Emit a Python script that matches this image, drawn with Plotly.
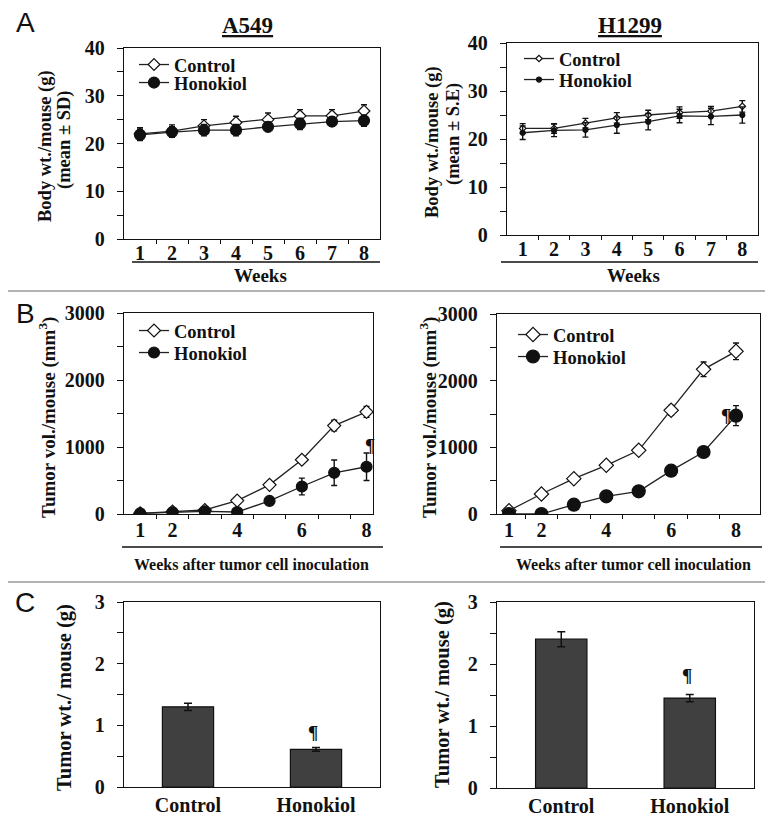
import plotly.graph_objects as go

# ---------------- data ----------------
weeks = [1, 2, 3, 4, 5, 6, 7, 8]
vol_tick_weeks = [1, 2, 4, 6, 8]

# Panel A: body weight (g)
a549_bw_ctrl = [22.0, 22.6, 23.7, 24.4, 25.0, 25.8, 25.8, 26.8]
a549_bw_ctrl_sd = [1.3, 1.3, 1.3, 1.3, 1.4, 1.3, 1.3, 1.3]
a549_bw_hono = [21.8, 22.4, 22.8, 22.8, 23.5, 24.1, 24.6, 24.8]
a549_bw_hono_sd = [1.2, 1.1, 1.2, 1.2, 1.0, 1.2, 1.0, 1.2]

h1299_bw_ctrl = [22.2, 22.2, 23.3, 24.4, 25.0, 25.5, 25.8, 26.8]
h1299_bw_ctrl_se = [1.0, 1.0, 1.0, 1.1, 1.0, 1.2, 1.0, 1.2]
h1299_bw_hono = [21.3, 21.8, 21.9, 22.9, 23.6, 24.8, 24.7, 25.0]
h1299_bw_hono_se = [1.4, 1.3, 1.5, 1.7, 1.7, 1.4, 1.7, 1.7]

# Panel B: tumor volume (mm3)
a549_vol_ctrl = [10, 35, 60, 200, 435, 810, 1320, 1525]
a549_vol_ctrl_err = [5, 10, 15, 25, 35, 50, 80, 80]
a549_vol_hono = [10, 25, 40, 30, 195, 410, 615, 705]
a549_vol_hono_err = [5, 10, 10, 10, 30, 125, 190, 205]

h1299_vol_ctrl = [50, 300, 530, 730, 955, 1555, 2170, 2440]
h1299_vol_ctrl_err = [20, 30, 35, 35, 45, 75, 110, 125]
h1299_vol_hono = [0, 0, 140, 265, 340, 650, 930, 1475]
h1299_vol_hono_err = [5, 5, 20, 25, 30, 35, 80, 150]

# Panel C: tumor weight (g)
groups = ["Control", "Honokiol"]
a549_wt = [1.30, 0.61]
a549_wt_err = [0.06, 0.03]
h1299_wt = [2.40, 1.45]
h1299_wt_err = [0.12, 0.06]

# ---------------- helpers ----------------
W, H = 773, 823
SERIF = "Liberation Serif"
SANS = "Liberation Sans"
INK = "#111111"
DX, DY = 8, 8  # page (body margin) offset compensation


def fx(p):
    return (p - DX) / W


def fy(p):
    return 1 - (p - DY) / H


fig = go.Figure()


def line_trace(y, err, name, ctrl, xa, ya, legend, msize, lw=1.3):
    return go.Scatter(
        x=weeks, y=y, name=name, mode="lines+markers",
        xaxis=xa, yaxis=ya, legend=legend,
        line=dict(color="#222222", width=lw),
        marker=dict(symbol="diamond" if ctrl else "circle", size=msize,
                    color="white" if ctrl else INK,
                    line=dict(color=INK, width=1.2)),
        error_y=dict(type="data", array=err, visible=True, color=INK,
                     thickness=1.4, width=3),
    )


# A left
fig.add_trace(line_trace(a549_bw_ctrl, a549_bw_ctrl_sd, "Control", True, "x", "y", "legend", 9))
fig.add_trace(line_trace(a549_bw_hono, a549_bw_hono_sd, "Honokiol", False, "x", "y", "legend2", 11))
# A right
fig.add_trace(line_trace(h1299_bw_ctrl, h1299_bw_ctrl_se, "Control", True, "x2", "y2", "legend3", 5))
fig.add_trace(line_trace(h1299_bw_hono, h1299_bw_hono_se, "Honokiol", False, "x2", "y2", "legend4", 5))
# B left
fig.add_trace(line_trace(a549_vol_ctrl, a549_vol_ctrl_err, "Control", True, "x3", "y3", "legend5", 10))
fig.add_trace(line_trace(a549_vol_hono, a549_vol_hono_err, "Honokiol", False, "x3", "y3", "legend6", 11))
# B right
fig.add_trace(line_trace(h1299_vol_ctrl, h1299_vol_ctrl_err, "Control", True, "x4", "y4", "legend7", 11))
fig.add_trace(line_trace(h1299_vol_hono, h1299_vol_hono_err, "Honokiol", False, "x4", "y4", "legend8", 13))


def bar_trace(vals, err, xa, ya):
    return go.Bar(
        x=groups, y=vals, xaxis=xa, yaxis=ya, width=0.4, showlegend=False,
        marker=dict(color="#404040", line=dict(color=INK, width=1.2)),
        error_y=dict(type="data", array=err, visible=True, color=INK,
                     thickness=1.5, width=4),
    )


fig.add_trace(bar_trace(a549_wt, a549_wt_err, "x5", "y5"))
fig.add_trace(bar_trace(h1299_wt, h1299_wt_err, "x6", "y6"))

tickfont = dict(family=SERIF, size=20, color=INK, weight="bold")


def yaxis(top, bottom, anchor, rng, dtick, minor):
    return dict(
        domain=[fy(bottom), fy(top)], anchor=anchor, range=rng, automargin=False,
        tick0=0, dtick=dtick, ticks="outside", ticklen=6, tickwidth=1.3,
        tickcolor=INK, showline=True, linecolor=INK, linewidth=1.3,
        mirror=True, showgrid=False, zeroline=False, tickfont=tickfont,
        ticklabelstandoff=8,
        minor=dict(tick0=0, dtick=minor, ticks="outside", ticklen=6,
                   tickwidth=1.3, tickcolor=INK, showgrid=False),
    )


def xaxis_weeks(x0, x1, anchor, rng, tickvals, standoff):
    return dict(
        domain=[fx(x0), fx(x1)], anchor=anchor, range=rng, automargin=False,
        tickmode="array", tickvals=tickvals, ticktext=[str(v) for v in tickvals],
        ticks="", showline=True, linecolor=INK, linewidth=1.3, mirror=True,
        showgrid=False, zeroline=False, tickfont=tickfont,
        ticklabelstandoff=standoff,
        minor=dict(tickmode="array", tickvals=[w + 0.5 for w in weeks[:-1]],
                   ticks="outside", ticklen=4, tickwidth=1.3, tickcolor=INK,
                   showgrid=False),
    )


def xaxis_cat(x0, x1, anchor):
    return dict(
        domain=[fx(x0), fx(x1)], anchor=anchor, type="category", automargin=False,
        range=[-0.5, 1.5], ticks="", showline=True, linecolor=INK,
        linewidth=1.3, mirror=True, showgrid=False, zeroline=False,
        tickfont=tickfont, ticklabelstandoff=0,
    )


legend_common = dict(bgcolor="rgba(0,0,0,0)", borderwidth=0,
                     font=dict(family=SERIF, size=18.5, color=INK, weight="bold"),
                     xanchor="left", yanchor="middle", itemwidth=30,
                     tracegroupgap=0)


def leg(x_line_start, row_center):
    return dict(legend_common, x=fx(x_line_start - 4), y=fy(row_center))


fig.update_layout(
    width=W, height=H, margin=dict(l=0, r=0, t=0, b=0, autoexpand=False),
    paper_bgcolor="white", plot_bgcolor="white", showlegend=True,
    xaxis=xaxis_weeks(124, 380, "y", [0.5, 8.5], weeks, -4),
    yaxis=yaxis(48, 239, "x", [0, 40], 10, 5),
    xaxis2=xaxis_weeks(507, 758, "y2", [0.5, 8.5], weeks, -4),
    yaxis2=yaxis(43, 235, "x2", [0, 40], 10, 5),
    xaxis3=xaxis_weeks(124, 373, "y3", [0.5, 8.2], vol_tick_weeks, -2),
    yaxis3=yaxis(313, 514, "x3", [0, 3000], 1000, 500),
    xaxis4=xaxis_weeks(497, 760, "y4", [0.63, 8.74], vol_tick_weeks, -2),
    yaxis4=yaxis(314, 514, "x4", [0, 3000], 1000, 500),
    xaxis5=xaxis_cat(124, 380, "y5"),
    yaxis5=yaxis(602, 787, "x5", [0, 3], 1, 0.5),
    xaxis6=xaxis_cat(497, 754, "y6"),
    yaxis6=yaxis(602, 788, "x6", [0, 3], 1, 0.5),
    legend=leg(138, 65), legend2=leg(138, 83),
    legend3=leg(523, 59), legend4=leg(523, 80),
    legend5=leg(138, 331), legend6=leg(138, 353),
    legend7=leg(517, 335), legend8=leg(517, 357),
)

annotations = []


def note(text, x, y, size=17, angle=0, family=SERIF, bold=True):
    annotations.append(dict(
        text=text, x=fx(x), y=fy(y), xref="paper", yref="paper",
        showarrow=False, textangle=angle, xanchor="center", yanchor="middle",
        font=dict(family=family, size=size, color=INK,
                  weight="bold" if bold else "normal")))


# panel letters
note("A", 25, 23, size=28, family=SANS, bold=False)
note("B", 25, 314, size=28, family=SANS, bold=False)
note("C", 25, 602, size=28, family=SANS, bold=False)
# titles
note("<u>A549</u>", 248, 25, size=23)
note("<u>H1299</u>", 630, 25, size=23)
# y titles
note("Body wt./mouse (g)", 45, 146, size=18.5, angle=-90)
note("(mean ± SD)", 64, 139, size=18.5, angle=-90)
note("Body wt./mouse (g)", 433, 142, size=18.5, angle=-90)
note("(mean ± S.E)", 453, 134, size=18.5, angle=-90)
note("Tumor vol./mouse (mm<sup>3</sup>)", 47, 418, size=19, angle=-90)
note("Tumor vol./mouse (mm<sup>3</sup>)", 428, 418, size=19, angle=-90)
note("Tumor wt./ mouse (g)", 64, 697, size=20.5, angle=-90)
note("Tumor wt./ mouse (g)", 442, 695, size=20.5, angle=-90)
# x titles
note("Weeks", 260, 276, size=19)
note("Weeks", 633, 276, size=19)
note("Weeks after tumor cell inoculation", 251, 564, size=16)
note("Weeks after tumor cell inoculation", 633, 564, size=16)

# significance marks anchored to data
pil = dict(family=SERIF, size=19, color=INK, weight="bold")
annotations.append(dict(text="¶", xref="x3", yref="y3", x=weeks[-1],
                        y=a549_vol_hono[-1] + a549_vol_hono_err[-1],
                        showarrow=False, yanchor="bottom", xshift=3, yshift=-5,
                        font=pil))
annotations.append(dict(text="¶", xref="x4", yref="y4", x=weeks[-1],
                        y=h1299_vol_hono[-1], showarrow=False,
                        yanchor="middle", xshift=-10, yshift=0, font=pil))
annotations.append(dict(text="¶", xref="x5", yref="y5", x=groups[1],
                        y=a549_wt[1] + a549_wt_err[1], showarrow=False,
                        yanchor="bottom", yshift=3, xshift=-3, font=pil))
annotations.append(dict(text="¶", xref="x6", yref="y6", x=groups[1],
                        y=h1299_wt[1] + h1299_wt_err[1], showarrow=False,
                        yanchor="bottom", yshift=6, xshift=-3, font=pil))

shapes = []


def hline(x0, x1, y, color=INK, width=1.4):
    shapes.append(dict(type="line", xref="paper", yref="paper",
                       x0=fx(x0), x1=fx(x1), y0=fy(y), y1=fy(y),
                       line=dict(color=color, width=width)))


hline(132, 380, 262)
hline(501, 758, 262)
hline(122, 383, 547)
hline(500, 762, 547)
hline(0, 781, 291, color="#9a9a9a", width=1.5)
hline(0, 781, 582, color="#9a9a9a", width=1.5)

fig.update_layout(annotations=annotations, shapes=shapes)

fig.write_html("out.html")
